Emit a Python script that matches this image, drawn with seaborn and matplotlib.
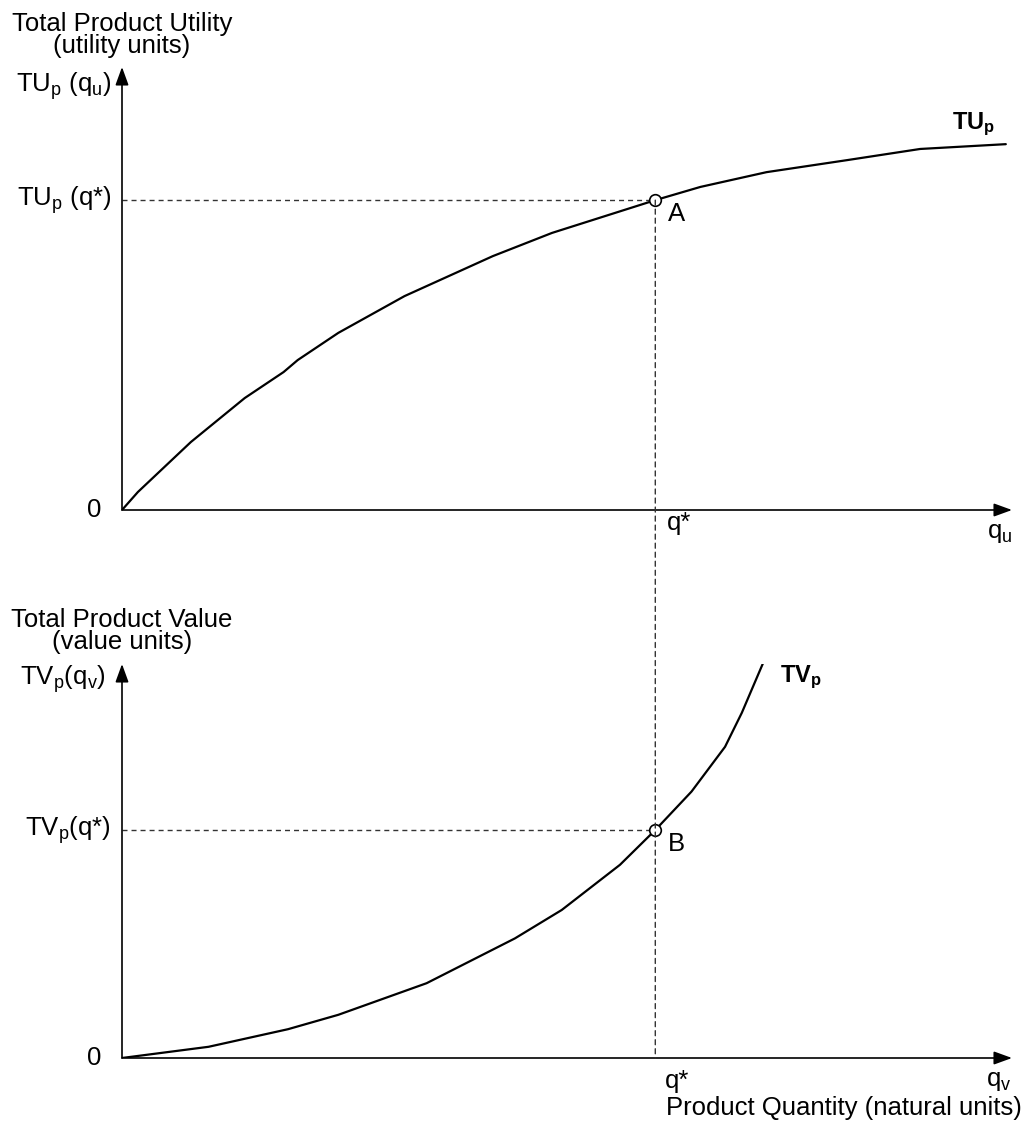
import numpy as np
import matplotlib
matplotlib.use("Agg")
import matplotlib.pyplot as plt
import seaborn as sns
from matplotlib.patches import ConnectionPatch

sns.set_style("white")
plt.rcParams['font.family'] = ['Liberation Sans', 'DejaVu Sans']
plt.rcParams['text.color'] = 'black'
plt.rcParams['mathtext.fontset'] = 'custom'
plt.rcParams['mathtext.rm'] = 'Liberation Sans'
plt.rcParams['mathtext.it'] = 'Liberation Sans'
plt.rcParams['mathtext.bf'] = 'Liberation Sans:bold'

# quantity where both points sit
q_star = 6.04

# total product utility curve (top panel)
q_tu = [0, 0.18, 0.78, 1.39, 1.83, 1.99, 2.45, 3.20, 4.20, 4.87, 6.04, 6.55, 7.30, 8.21, 9.04, 10.01]
tu = [0, 0.45, 1.70, 2.80, 3.45, 3.75, 4.43, 5.35, 6.35, 6.93, 7.75, 8.08, 8.45, 8.75, 9.03, 9.15]
tu_star = 7.75

# total product value curve (bottom panel)
q_tv = [0, 0.98, 1.88, 2.45, 3.45, 4.45, 4.98, 5.64, 6.04, 6.45, 6.83, 7.02, 7.26]
tv = [0, 0.28, 0.72, 1.08, 1.87, 2.99, 3.70, 4.83, 5.70, 6.66, 7.78, 8.63, 9.87]
tv_star = 5.70

W, H = 1030, 1122
fig = plt.figure(figsize=(W / 100, H / 100), dpi=100)
ax1 = fig.add_axes([122 / W, (H - 510) / H, (1012 - 122) / W, (510 - 67) / H])
ax2 = fig.add_axes([122 / W, (H - 1058) / H, (1012 - 122) / W, (1058 - 664) / H])
ax1.set_xlim(0, 10.08)
ax1.set_ylim(0, 11.08)
ax2.set_xlim(0, 10.08)
ax2.set_ylim(0, 9.85)

fs = 18.5
dash = (0, (3.6, 2.9))
arrow = dict(arrowstyle='-|>,head_length=1.1,head_width=0.4', color='black', lw=1.2,
             shrinkA=0, shrinkB=0)

for ax in (ax1, ax2):
    for s in ax.spines.values():
        s.set_visible(False)
    ax.set_xticks([])
    ax.set_yticks([])
    ax.patch.set_alpha(0)
    ax.annotate('', xy=(1, 0), xytext=(0, 0), xycoords='axes fraction', arrowprops=arrow)
    ax.annotate('', xy=(0, 1), xytext=(0, 0), xycoords='axes fraction', arrowprops=arrow)
    ax.annotate('0', xy=(0, 0), xycoords='data', xytext=(-15, 0), textcoords='offset points',
                ha='right', va='center', fontsize=fs)

# top panel
sns.lineplot(x=q_tu, y=tu, ax=ax1, color='black', lw=1.6)
ax1.plot([0, q_star], [tu_star, tu_star], color='#333333', lw=1.0, linestyle=dash)
sns.scatterplot(x=[q_star], y=[tu_star], ax=ax1, s=70, color='white', edgecolor='black',
                linewidth=1.2, zorder=5)
ax1.annotate('A', xy=(q_star, tu_star), xytext=(9, -10), textcoords='offset points',
             ha='left', va='center', fontsize=fs)
ax1.annotate(r'$\mathbf{TU_{p}}$', xy=(q_tu[-1], tu[-1]), xytext=(-39, 14), textcoords='offset points',
             ha='left', va='center', fontsize=17, annotation_clip=False)
ax1.annotate(r'TU$_\mathregular{p}$ (q$_\mathregular{u}$)', xy=(0, 1), xycoords='axes fraction',
             xytext=(-8, -14), textcoords='offset points', ha='right', va='center', fontsize=fs)
ax1.annotate(r'TU$_\mathregular{p}$ (q*)', xy=(0, tu_star), xytext=(-8, 0), textcoords='offset points',
             ha='right', va='center', fontsize=fs)
ax1.annotate('q*', xy=(q_star, 0), xytext=(8, -1), textcoords='offset points',
             ha='left', va='top', fontsize=fs)
ax1.annotate(r'q$_\mathregular{u}$', xy=(1, 0), xycoords='axes fraction', xytext=(0, -8),
             textcoords='offset points', ha='right', va='top', fontsize=fs)
ax1.annotate('Total Product Utility\n(utility units)', xy=(0, 1), xycoords='axes fraction',
             xytext=(0, 23), textcoords='offset points', ha='center', va='center',
             fontsize=fs, linespacing=0.9)

# bottom panel
sns.lineplot(x=q_tv, y=tv, ax=ax2, color='black', lw=1.6)
ax2.plot([0, q_star], [tv_star, tv_star], color='#333333', lw=1.0, linestyle=dash)
sns.scatterplot(x=[q_star], y=[tv_star], ax=ax2, s=70, color='white', edgecolor='black',
                linewidth=1.2, zorder=5)
ax2.annotate('B', xy=(q_star, tv_star), xytext=(9, -10), textcoords='offset points',
             ha='left', va='center', fontsize=fs)
ax2.annotate(r'$\mathbf{TV_{p}}$', xy=(q_tv[-1], tv[-1]), xytext=(12, -10), textcoords='offset points',
             ha='left', va='center', fontsize=17, annotation_clip=False)
ax2.annotate(r'TV$_\mathregular{p}$(q$_\mathregular{v}$)', xy=(0, 1), xycoords='axes fraction',
             xytext=(-12, -11), textcoords='offset points', ha='right', va='center', fontsize=fs)
ax2.annotate(r'TV$_\mathregular{p}$(q*)', xy=(0, tv_star), xytext=(-8, 0), textcoords='offset points',
             ha='right', va='center', fontsize=fs)
ax2.annotate('q*', xy=(q_star, 0), xytext=(7, -8), textcoords='offset points',
             ha='left', va='top', fontsize=fs)
ax2.annotate(r'q$_\mathregular{v}$', xy=(1, 0), xycoords='axes fraction', xytext=(0, -8),
             textcoords='offset points', ha='right', va='top', fontsize=fs)
ax2.annotate('Product Quantity (natural units)', xy=(1, 0), xycoords='axes fraction',
             xytext=(7, -36), textcoords='offset points', ha='right', va='center', fontsize=fs)
ax2.annotate('Total Product Value\n(value units)', xy=(0, 1), xycoords='axes fraction',
             xytext=(0, 24), textcoords='offset points', ha='center', va='center',
             fontsize=fs, linespacing=0.9)

# dashed guide from A down to the quantity axis of the bottom panel
con = ConnectionPatch(xyA=(q_star, tu_star), coordsA=ax1.transData,
                      xyB=(q_star, 0), coordsB=ax2.transData,
                      color='#333333', lw=1.0, linestyle=dash, zorder=1)
fig.add_artist(con)

fig.savefig('out.png', dpi=100)
